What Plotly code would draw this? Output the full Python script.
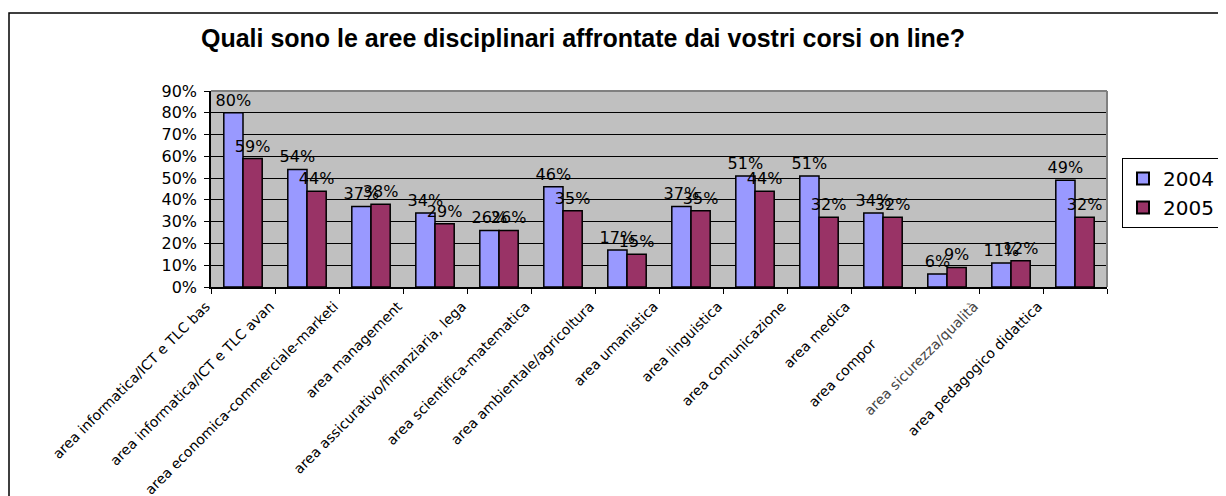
import plotly.graph_objects as go

categories = [
    "area informatica/ICT e TLC bas",
    "area informatica/ICT e TLC avan",
    "area economica-commerciale-marketi",
    "area management",
    "area assicurativo/finanziaria, lega",
    "area scientifica-matematica",
    "area ambientale/agricoltura",
    "area umanistica",
    "area linguistica",
    "area comunicazione",
    "area medica",
    "area compor",
    "area sicurezza/qualità",
    "area pedagogico didattica",
]
values_2004 = [0.80, 0.54, 0.37, 0.34, 0.26, 0.46, 0.17, 0.37, 0.51, 0.51, 0.34, 0.06, 0.11, 0.49]
values_2005 = [0.59, 0.44, 0.38, 0.29, 0.26, 0.35, 0.15, 0.35, 0.44, 0.32, 0.32, 0.09, 0.12, 0.32]
series_names = ["2004", "2005"]
y_ticks = [0, 0.1, 0.2, 0.3, 0.4, 0.5, 0.6, 0.7, 0.8, 0.9]

FONT = "DejaVu Sans"
OFF = 8  # page body margin
W, H = 1226, 496
ML, MT = 211 - OFF, 91 - OFF
PW, PH = 896, 196
MR, MB = W - ML - PW, H - MT - PH


def tick_label(c):
    # styling of the rotated category labels as drawn in the original
    if c == "area compor":
        return c + "\u00a0" * 12  # pushed lower, as in the original
    if c == "area sicurezza/qualità":
        return f"<span style='color:#454545'>{c}</span>"
    return c


fig = go.Figure()
for name, vals, col in [(series_names[0], values_2004, "#9999FF"),
                        (series_names[1], values_2005, "#993366")]:
    fig.add_trace(go.Bar(
        name=name, x=categories, y=vals,
        marker=dict(color=col, line=dict(color="black", width=1.5)),
        text=[f"{v:.0%}" for v in vals], textposition="outside",
        constraintext="none",
        textfont=dict(family=FONT, size=16, color="black"),
        cliponaxis=False,
    ))

fig.update_layout(
    width=W, height=H,
    margin=dict(l=ML, r=MR, t=MT, b=MB, autoexpand=False),
    paper_bgcolor="white", plot_bgcolor="#C0C0C0",
    barmode="group", bargap=0.4, bargroupgap=0,
    title=dict(text="<b>Quali sono le aree disciplinari affrontate dai vostri corsi on line?</b>",
               x=(583 - OFF) / W, xref="container", xanchor="center",
               y=1 - (38 - OFF) / H, yref="container", yanchor="middle",
               font=dict(family="Liberation Sans", size=25, color="black")),
    legend=dict(x=(1122 - OFF - ML) / PW, y=1 - (158 - OFF - MT) / PH,
                xanchor="left", yanchor="top",
                bgcolor="white", bordercolor="black", borderwidth=1,
                font=dict(family=FONT, size=20, color="black"),
                itemsizing="constant", tracegroupgap=0),
    showlegend=True,
)
fig.update_xaxes(
    type="category", showline=True, linecolor="black", linewidth=1.5,
    ticks="outside", tickson="boundaries", ticklen=5, tickcolor="black",
    tickvals=categories, ticktext=[tick_label(c) for c in categories],
    tickangle=-45, tickfont=dict(family=FONT, size=14, color="black"),
    ticklabelshift=-37, ticklabelstandoff=4, showgrid=False,
)
fig.update_yaxes(
    range=[0, 0.9], tickvals=y_ticks, tickformat=".0%",
    showline=True, linecolor="black", linewidth=1.5,
    ticks="outside", ticklen=5, tickcolor="black",
    tickfont=dict(family=FONT, size=16, color="black"),
    ticklabelstandoff=4,
    showgrid=True, gridcolor="black", gridwidth=1, zeroline=False,
)
# plot-area border (top/right in gray)
fig.add_shape(type="line", xref="x domain", yref="y domain", x0=0, x1=1, y0=1, y1=1,
              line=dict(color="#808080", width=2))
fig.add_shape(type="line", xref="x domain", yref="y domain", x0=1, x1=1, y0=0, y1=1,
              line=dict(color="#808080", width=2))
# outer chart frame
fig.add_shape(type="rect", xref="paper", yref="paper",
              x0=(8 - OFF - ML + 1) / PW, x1=(W + 20 - ML) / PW,
              y0=1 - (H + 20 - MT) / PH, y1=1 + (MT - (13 - OFF)) / PH,
              line=dict(color="black", width=1.5), fillcolor="rgba(0,0,0,0)", layer="below")

fig.write_html("out.html")
